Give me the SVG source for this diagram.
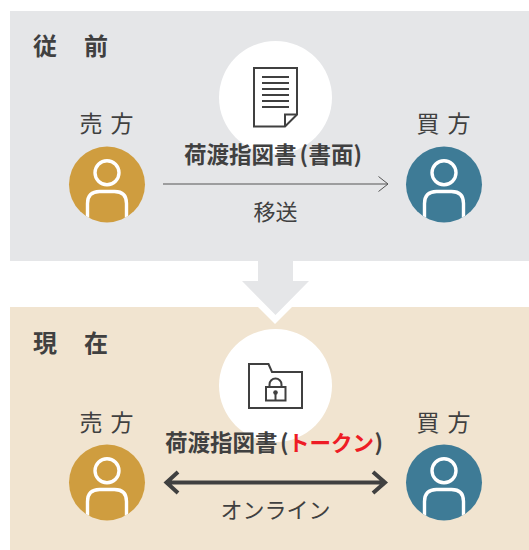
<svg xmlns="http://www.w3.org/2000/svg" width="529" height="550" viewBox="0 0 529 550">
<defs>
<style>
text{font-family:"Noto Sans CJK JP","Noto Sans CJK SC",sans-serif;fill:#404040}
.h{font-size:24px;font-weight:700;letter-spacing:1.5px}
.r{font-size:23px;font-weight:400;text-anchor:middle;word-spacing:3px}
.t{font-size:22.5px;font-weight:700}
.l{font-size:22px;font-weight:400;text-anchor:middle}
.ic{fill:none;stroke:#404040;stroke-width:2}
.u{fill:none;stroke:#fff;stroke-width:3.4}
</style>
<clipPath id="c"><circle cx="0" cy="0" r="38"/></clipPath>
<g id="person">
<g clip-path="url(#c)">
<circle cx="0" cy="-11.7" r="12"/>
<path d="M-19.5 45V19Q-19.5 7 -7.500 7H7.500Q19.500 7 19.500 19V45"/>
</g>
</g>
</defs>
<rect x="10" y="11" width="519" height="250" fill="#e5e6e8"/>
<rect x="10" y="307" width="519" height="243" fill="#f1e4d0"/>
<polygon points="257,306 293,306 275,324" fill="#fff"/>
<polygon id="transition-arrow" points="258,261 293,261 293,281 309,281 275.500,315 242,281 258,281" fill="#e5e6e8"/>

<text id="title-before" class="h" x="33" y="55">従　前</text>
<text id="title-now" class="h" x="33" y="352">現　在</text>

<g id="connectors">
<path d="M163 184H388M378.500 176.500L388 184L378.500 191.500" fill="none" stroke="#555" stroke-width="1"/>
<path d="M167 482.500H384M178 472L166.500 482.500L178 493M373 472L385 482.500L373 493" fill="none" stroke="#404040" stroke-width="4"/>
</g>

<g id="doc-paper">
<circle cx="275.500" cy="97.500" r="56.500" fill="#fff"/>
<path class="ic" d="M254 68H297V114.500L285 126.500H254Z"/>
<path class="ic" d="M285 126.500V114.500H297"/>
<path class="ic" d="M262 77H289M262 83H289M262 89H289M262 95H289M262 101H289M262 107H289" stroke-width="1.800"/>
<text class="t" x="184" y="163">荷渡指図書<tspan x="299.500">(</tspan><tspan x="308.500">書面</tspan><tspan x="353.500">)</tspan></text>
</g>
<g id="doc-token">
<circle cx="275.500" cy="385.500" r="56.500" fill="#fff"/>
<path class="ic" d="M249 364H268.500L272 372H302V408H249Z"/>
<path class="ic" d="M266 387H285.500V400.500H266Z"/>
<path class="ic" d="M269.500 387V384.500A6 6 0 0 1 281.500 384.500V387"/>
<circle cx="275.500" cy="392.500" r="2.300" fill="#404040"/>
<path class="ic" d="M275.500 392.500V400" stroke-width="1.500"/>
<text class="t" x="165" y="451">荷渡指図書<tspan x="280">(</tspan><tspan x="288" fill="#ee1c25" font-size="21.500">トークン</tspan><tspan x="374.500">)</tspan></text>
</g>

<text id="label-move" class="l" x="275.500" y="220">移送</text>
<text id="label-online" class="l" x="275.500" y="518">オンライン</text>

<g id="seller-before">
<text class="r" x="106.500" y="132">売 方</text>
<circle cx="107" cy="184.500" r="38" fill="#cf9d3f"/>
<use href="#person" class="u" x="107" y="184.500"/>
</g>
<g id="buyer-before">
<text class="r" x="443.500" y="132">買 方</text>
<circle cx="444" cy="184.500" r="38" fill="#3e7b96"/>
<use href="#person" class="u" x="444" y="184.500"/>
</g>
<g id="seller-now">
<text class="r" x="106.500" y="431">売 方</text>
<circle cx="107" cy="482.500" r="38" fill="#cf9d3f"/>
<use href="#person" class="u" x="107" y="482.500"/>
</g>
<g id="buyer-now">
<text class="r" x="443.500" y="431">買 方</text>
<circle cx="444" cy="482.500" r="38" fill="#3e7b96"/>
<use href="#person" class="u" x="444" y="482.500"/>
</g>
</svg>
